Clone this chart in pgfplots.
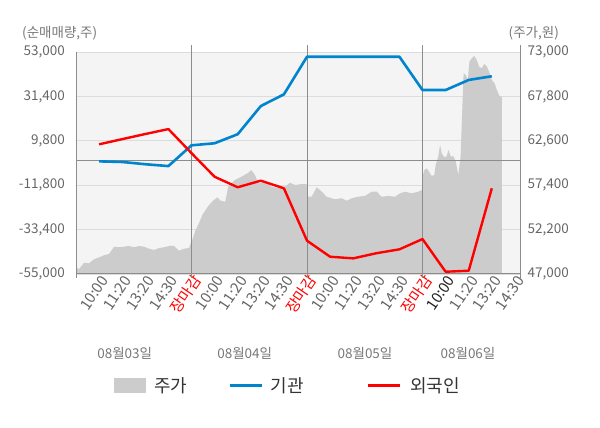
\documentclass[border=0pt]{standalone}
\usepackage{pgfplots}
\pgfplotsset{compat=1.18}
\usepackage{fontspec}
\setmainfont{Noto Sans CJK KR}
\definecolor{bgcol}{HTML}{F4F4F4}
\definecolor{gridcol}{HTML}{DCDCDC}
\definecolor{axcol}{HTML}{8C8C8C}
\definecolor{areacol}{HTML}{CCCCCC}
\definecolor{tickcol}{HTML}{666666}
\definecolor{datecol}{HTML}{777777}
\definecolor{blueline}{HTML}{0084CE}
\definecolor{legtxt}{HTML}{333333}
\definecolor{darktxt}{HTML}{222222}

\pgfplotstableread{
x y
0 47000
0 47850
0.13 47550
0.35 48320
0.56 48250
0.78 48720
1.00 48950
1.21 49190
1.43 49340
1.65 50200
1.86 50130
2.08 50200
2.29 50280
2.51 50130
2.73 50280
2.94 50200
3.16 49960
3.38 49810
3.59 50040
3.81 50130
4.03 50280
4.24 50280
4.46 49730
4.68 49960
4.89 50040
5.03 50980
5.18 52150
5.32 52940
5.47 53910
5.61 54500
5.76 55080
5.97 55670
6.12 55980
6.26 55580
6.46 55470
6.59 57220
6.88 58010
7.17 58400
7.46 58860
7.58 59180
7.75 58590
7.89 57620
8.18 57810
8.47 57220
8.76 57040
9.05 57220
9.26 57690
9.48 57420
9.77 57540
9.98 57540
10.02 56050
10.20 56050
10.42 57150
10.64 56640
10.85 56050
11.21 55750
11.50 55870
11.72 55580
11.94 55870
12.22 56050
12.51 56140
12.80 56640
13.02 56640
13.23 56050
13.52 56140
13.81 56050
14.03 56450
14.24 56640
14.53 56450
14.82 56640
14.97 56840
15.00 58400
15.08 59180
15.18 59380
15.28 58980
15.40 58480
15.51 58590
15.57 59770
15.68 60740
15.76 62110
15.83 61140
15.94 60670
16.05 60820
16.12 61520
16.23 60740
16.33 60820
16.44 60150
16.55 58590
16.65 60740
16.72 66210
16.78 70510
16.87 70310
16.96 69720
17.03 71860
17.13 72260
17.24 72530
17.35 72060
17.45 71280
17.56 71090
17.68 71600
17.79 71280
17.88 70690
18.00 69720
18.12 69330
18.22 68550
18.31 67960
18.40 67700
18.43 67700
18.43 47000
}\pricetable

\pgfplotstableread{
x y
1 -200
2 -500
3 -1600
4 -2500
5 7600
6 8600
7 13000
8 26700
9 32400
10 50700
11 50700
12 50700
13 50700
14 50700
15 34500
16 34500
17 39400
18 41200
}\insttable

\pgfplotstableread{
x y
1 8100
2 10600
3 13100
4 15500
5 3800
6 -7700
7 -12800
8 -9600
9 -13300
10 -38800
11 -46600
12 -47400
13 -44900
14 -43000
15 -38000
16 -53900
17 -53400
18 -13300
}\fortable

\begin{document}
\begin{tikzpicture}[x=1pt,y=1pt]
\useasboundingbox (0,0) rectangle (600,428);
\begin{axis}[
  at={(76pt,154pt)}, anchor=south west,
  scale only axis, width=444pt, height=222pt,
  xmin=0, xmax=19.22, ymin=47000, ymax=73000,
  scaled y ticks=false,
  axis background/.style={fill=bgcol},
  axis line style={draw=none},
  xtick=\empty,
  ytick={47000,52200,57400,62600,67800,73000},
  yticklabels={{47,000},{52,200},{57,400},{62,600},{67,800},{73,000}},
  ytick pos=right, yticklabel pos=right,
  yticklabel style={font=\fontsize{13.5}{14}\selectfont, text=tickcol, anchor=west, inner sep=0pt, xshift=7.5pt},
  major tick length=0pt,
  ymajorgrids, grid style={gridcol, line width=0.8pt},
]
\addplot[fill=areacol, draw=none] table[x=x,y=y] {\pricetable};
\end{axis}
\begin{axis}[
  at={(76pt,154pt)}, anchor=south west,
  scale only axis, width=444pt, height=222pt,
  xmin=0, xmax=19.22, ymin=-55000, ymax=53000,
  scaled y ticks=false, scaled x ticks=false,
  axis line style={draw=none},
  clip=false,
  xtick={1,...,19},
  xticklabels={10:00,11:20,13:20,14:30,\textcolor{red}{장마감},10:00,11:20,13:20,14:30,\textcolor{red}{장마감},10:00,11:20,13:20,14:30,\textcolor{red}{장마감},\textcolor{darktxt}{10:00},11:20,13:20,14:30},
  ytick={-55000,-33400,-11800,9800,31400,53000},
  yticklabels={{-55,000},{-33,400},{-11,800},{9,800},{31,400},{53,000}},
  ytick pos=left, xtick pos=bottom,
  major tick length=0pt,
  yticklabel style={font=\fontsize{13.5}{14}\selectfont, text=tickcol, anchor=east, inner sep=0pt, xshift=-11pt},
  xticklabel style={font=\fontsize{15}{16}\selectfont, text=tickcol, rotate=56, anchor=east, inner sep=0pt, xshift=0.5pt, yshift=-6.5pt},
]
\draw[axcol, line width=1pt] (axis cs:0,0) -- (axis cs:19.22,0);
\draw[axcol, line width=1pt] (axis cs:0,-55000) -- (axis cs:19.22,-55000);
\draw[axcol, line width=1pt] ([yshift=-4pt]axis cs:0,-55000) -- (axis cs:0,53000);
\draw[axcol, line width=1pt] ([yshift=-4pt]axis cs:5,-55000) -- ([yshift=7pt]axis cs:5,53000);
\draw[axcol, line width=1pt] ([yshift=-4pt]axis cs:10,-55000) -- ([yshift=7pt]axis cs:10,53000);
\draw[axcol, line width=1pt] ([yshift=-4pt]axis cs:15,-55000) -- ([yshift=7pt]axis cs:15,53000);
\draw[axcol, line width=1pt] ([yshift=-4pt]axis cs:19.22,-55000) -- ([yshift=7pt]axis cs:19.22,53000);
\addplot[blueline, line width=2.6pt, line join=round] table[x=x,y=y] {\insttable};
\addplot[red, line width=2.4pt, line join=round] table[x=x,y=y] {\fortable};
\end{axis}
\node[anchor=west, inner sep=0pt, font=\fontsize{13.5}{14}\selectfont, text=datecol] at (22,395) {(순매매량,주)};
\node[anchor=west, inner sep=0pt, font=\fontsize{13.5}{14}\selectfont, text=datecol] at (508.5,395) {(주가,원)};
\node[font=\fontsize{13.5}{14}\selectfont, text=datecol] at (124.7,75) {08월03일};
\node[font=\fontsize{13.5}{14}\selectfont, text=datecol] at (244.7,75) {08월04일};
\node[font=\fontsize{13.5}{14}\selectfont, text=datecol] at (365,75) {08월05일};
\node[font=\fontsize{13.5}{14}\selectfont, text=datecol] at (468,75) {08월06일};
\fill[areacol] (114.3,35) rectangle (145.7,50);
\node[anchor=west, inner sep=0pt, font=\fontsize{18}{20}\selectfont, text=legtxt] at (154,42) {주가};
\draw[blueline, line width=3pt] (230,42) -- (261.7,42);
\node[anchor=west, inner sep=0pt, font=\fontsize{18}{20}\selectfont, text=legtxt] at (270.7,42) {기관};
\draw[red, line width=3pt] (368,42) -- (400,42);
\node[anchor=west, inner sep=0pt, font=\fontsize{18}{20}\selectfont, text=legtxt] at (410,42) {외국인};
\end{tikzpicture}
\end{document}
